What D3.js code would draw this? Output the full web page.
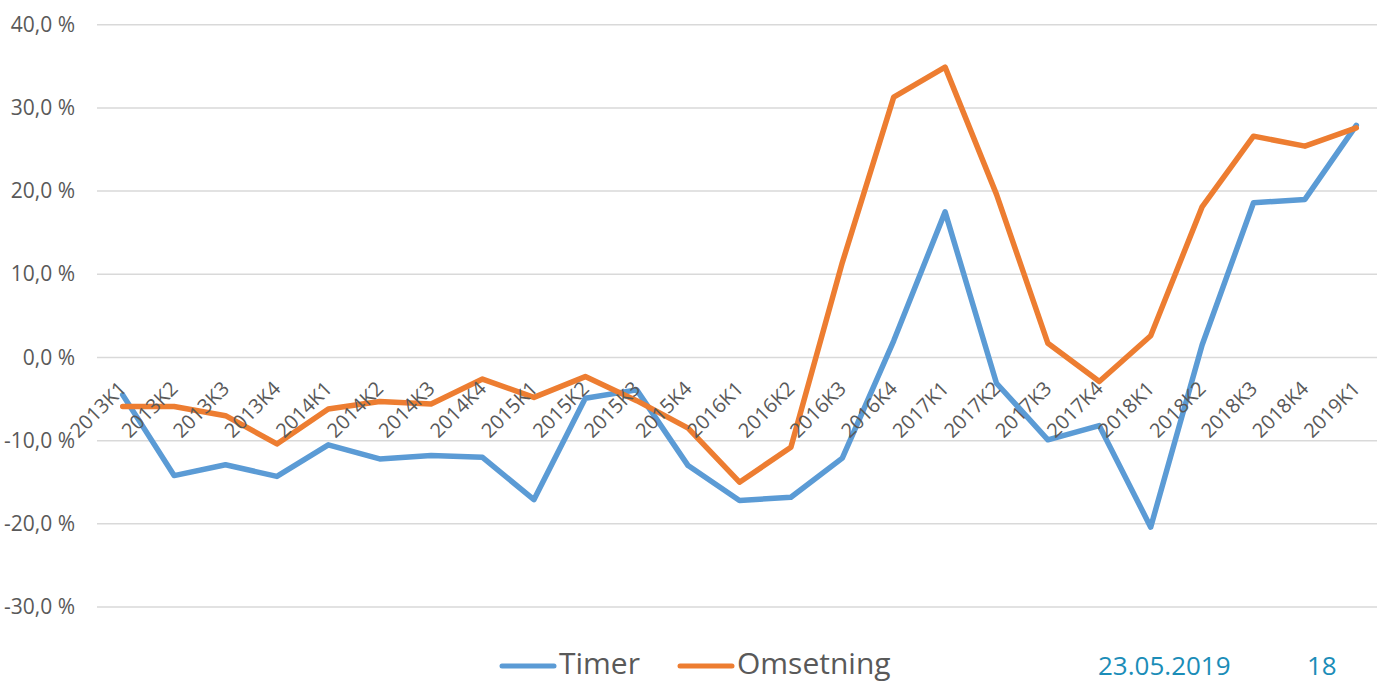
<!DOCTYPE html>
<html><head><meta charset="utf-8">
<script src="https://cdn.jsdelivr.net/npm/d3@7"></script>
<style>
html,body{margin:0;padding:0;background:#fff;}
svg{display:block;font-family:"Open Sans",sans-serif;}
</style></head>
<body>
<svg id="chart" width="1377" height="683"></svg>
<script>
const categories = ["2013K1","2013K2","2013K3","2013K4","2014K1","2014K2","2014K3","2014K4","2015K1","2015K2","2015K3","2015K4","2016K1","2016K2","2016K3","2016K4","2017K1","2017K2","2017K3","2017K4","2018K1","2018K2","2018K3","2018K4","2019K1"];
const timer = [-4.5,-14.2,-12.9,-14.3,-10.5,-12.2,-11.8,-12.0,-17.1,-4.9,-3.9,-13.0,-17.2,-16.8,-12.1,2.0,17.5,-3.1,-9.9,-8.2,-20.4,1.5,18.6,19.0,27.9];
const omsetning = [-5.9,-5.9,-7.0,-10.4,-6.2,-5.3,-5.6,-2.6,-4.8,-2.3,-5.2,-8.5,-15.0,-10.8,11.4,31.3,34.9,19.6,1.7,-2.9,2.6,18.1,26.6,25.4,27.6];
const yTicks = [-30,-20,-10,0,10,20,30,40];
const seriesNames = ["Timer","Omsetning"];
const colors = ["#5b9bd5","#ed7d31"];
const footerDate = "23.05.2019";
const pageNo = "18";

const svg = d3.select("#chart");
const left = 97, right = 1382;
const x = d3.scalePoint().domain(categories).range([left, right]).padding(0.5);
const y = d3.scaleLinear().domain([-30, 40]).range([607, 24.7]);

const fmt = v => d3.format(".1f")(v).replace(".", ",").replace("−","-") + " %";

// gridlines
svg.append("g").selectAll("line").data(yTicks).join("line")
  .attr("x1", left).attr("x2", 1377)
  .attr("y1", d => y(d)).attr("y2", d => y(d))
  .attr("stroke", "#d9d9d9").attr("stroke-width", 1.5);

// y axis labels
const yAxis = d3.axisLeft(y).tickValues(yTicks).tickFormat(fmt).tickSize(0).tickPadding(0);
const ya = svg.append("g").attr("transform", "translate(75,0)").call(yAxis);
ya.select(".domain").remove();
ya.selectAll("text").attr("fill", "#595959").attr("font-size", 21).attr("font-family", "Open Sans");

// lines
const line = d3.line().x((d, i) => x(categories[i])).y(d => y(d));
[timer, omsetning].forEach((s, k) => {
  svg.append("path").datum(s).attr("d", line)
    .attr("fill", "none").attr("stroke", colors[k]).attr("stroke-width", 5.5)
    .attr("stroke-linejoin", "round").attr("stroke-linecap", "round");
});

// category labels
svg.append("g").selectAll("text").data(categories).join("text")
  .attr("transform", d => `translate(${x(d) + 5},${y(0) + 32.5}) rotate(-45)`)
  .attr("text-anchor", "end")
  .attr("fill", "#595959").attr("font-size", 20)
  .text(d => d);

// legend
const lg = svg.append("g");
const legendItems = [{x: 500, name: seriesNames[0], c: colors[0]}, {x: 678, name: seriesNames[1], c: colors[1]}];
legendItems.forEach(it => {
  lg.append("line").attr("x1", it.x + 2).attr("x2", it.x + 54).attr("y1", 666).attr("y2", 666)
    .attr("stroke", it.c).attr("stroke-width", 5).attr("stroke-linecap", "round");
  lg.append("text").attr("x", it.x + 59).attr("y", 674).attr("fill", "#595959")
    .attr("font-size", 30).text(it.name);
});
svg.append("text").attr("x", 1098).attr("y", 675).attr("fill", "#1b8db8").attr("font-size", 26).text(footerDate);
svg.append("text").attr("x", 1307).attr("y", 675).attr("fill", "#1b8db8").attr("font-size", 26).text(pageNo);
</script>
</body></html>
